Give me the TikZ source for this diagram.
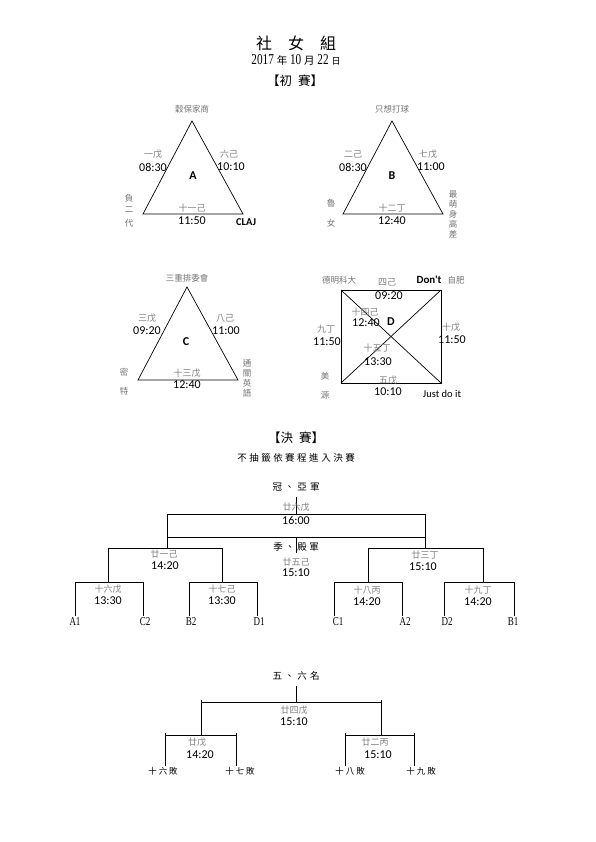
\documentclass[tikz,border=0pt]{standalone}
\usepackage{fontspec}
\setmainfont{Liberation Serif}
\newfontfamily\cjkf{Noto Sans CJK TC}
\newfontfamily\numf{Carlito}
\newfontfamily\nserif[FakeStretch=0.75]{Liberation Serif}
\newcommand{\gp}[1]{\hspace{#1}}
\begin{document}
\begin{tikzpicture}[x=1pt,y=-1pt,line width=0.7pt]
\tikzset{
  lbl/.style={inner sep=0pt,font=\cjkf\fontsize{9}{10}\selectfont,text=black!50},
  team/.style={inner sep=0pt,font=\cjkf\fontsize{8.5}{9}\selectfont,text=black!55},
  tim/.style={inner sep=0pt,font=\numf\fontsize{12}{13}\selectfont},
  grp/.style={inner sep=0pt,font=\numf\bfseries\fontsize{12}{13}\selectfont},
  blk/.style={inner sep=0pt,font=\cjkf\fontsize{9.5}{10}\selectfont},
  lose/.style={inner sep=0pt,font=\cjkf\fontsize{8.5}{9}\selectfont},
  seed/.style={inner sep=0pt,font=\nserif\fontsize{12}{13}\selectfont},
  sqline/.style={line width=1pt}
}
\useasboundingbox (0,0) rectangle (595,842);
\fill[white] (0,0) rectangle (595,842);

% ---------- header ----------
\node[inner sep=0pt,font=\cjkf\fontsize{16}{18}\selectfont] (title) at (296,43) {社\gp{16pt}女\gp{16pt}組};
\node[inner sep=0pt,font=\nserif\fontsize{15}{16}\selectfont] (date) at (296,60)
  {2017 {\cjkf\fontsize{10.5}{11}\selectfont 年} 10 {\cjkf\fontsize{10.5}{11}\selectfont 月} 22 {\cjkf\fontsize{9}{10}\selectfont 日}};
\node[inner sep=0pt,font=\cjkf\fontsize{12.5}{14}\selectfont] (prelim) at (295,81) {【初\gp{6pt}賽】};

% ---------- group A ----------
\coordinate (Aa) at (192,121); \coordinate (Ab) at (143,214); \coordinate (Ac) at (243,214);
\draw (Aa) -- (Ab) -- (Ac) -- cycle;
\node[team] (tA1) at (192,109) {穀保家商};
\node[lbl] (gA1) at (153,154) {一戊};
\node[tim] (hA1) at (153,167) {08:30};
\node[lbl] (gA2) at (229,154) {六己};
\node[tim] (hA2) at (231,167) {10:10};
\node[grp] (A) at (193,176) {A};
\node[lbl] (gA3) at (192,208) {十一己};
\node[tim] (hA3) at (192,221) {11:50};
\node[team] (tA2a) at (129,198) {負};
\node[team] (tA2b) at (129,210) {二};
\node[team] (tA2c) at (129,223) {代};
\node[inner sep=0pt,font=\numf\bfseries\fontsize{10.5}{12}\selectfont] (tA3) at (246,222) {CLAJ};

% ---------- group B ----------
\coordinate (Ba) at (392,121); \coordinate (Bb) at (343,214); \coordinate (Bc) at (443,214);
\draw (Ba) -- (Bb) -- (Bc) -- cycle;
\node[team] (tB1) at (392,109) {只想打球};
\node[lbl] (gB1) at (353,154) {二己};
\node[tim] (hB1) at (353,167) {08:30};
\node[lbl] (gB2) at (428,154) {七戊};
\node[tim] (hB2) at (431,167) {11:00};
\node[grp] (B) at (392,176) {B};
\node[lbl] (gB3) at (392,208) {十二丁};
\node[tim] (hB3) at (392,221) {12:40};
\node[team] (tB2a) at (331,203) {魯};
\node[team] (tB2b) at (331,223) {女};
\node[team] (tB3a) at (453,194) {最};
\node[team] (tB3b) at (453,204) {萌};
\node[team] (tB3c) at (453,214) {身};
\node[team] (tB3d) at (453,224) {高};
\node[team] (tB3e) at (453,234) {差};

% ---------- group C ----------
\coordinate (Ca) at (187,287); \coordinate (Cb) at (138,380); \coordinate (Cc) at (238,380);
\draw (Ca) -- (Cb) -- (Cc) -- cycle;
\node[team] (tC1) at (187,278) {三重排委會};
\node[lbl] (gC1) at (147,318) {三戊};
\node[tim] (hC1) at (147,331) {09:20};
\node[lbl] (gC2) at (225,318) {八己};
\node[tim] (hC2) at (226,331) {11:00};
\node[grp] (C) at (186,342) {C};
\node[lbl] (gC3) at (187,373) {十三戊};
\node[tim] (hC3) at (187,385) {12:40};
\node[team] (tC2a) at (124,372) {密};
\node[team] (tC2b) at (124,391) {特};
\node[team] (tC3a) at (247,363) {通};
\node[team] (tC3b) at (247,373) {關};
\node[team] (tC3c) at (247,383) {英};
\node[team] (tC3d) at (247,393) {語};

% ---------- group D ----------
\coordinate (Da) at (341,290); \coordinate (Db) at (441,290);
\coordinate (Dc) at (441,383); \coordinate (Dd) at (341,383);
\draw[sqline] (Da) -- (Db) -- (Dc) -- (Dd) -- cycle;
\draw (Da) -- (Dc);
\draw (Db) -- (Dd);
\node[team] (tD1) at (339,280) {德明科大};
\node[lbl] (gD1) at (387,282) {四己};
\node[tim] (hD1) at (389,296) {09:20};
\node[inner sep=0pt,font=\numf\bfseries\fontsize{11}{12}\selectfont] (tD2a) at (429,280) {Don't};
\node[team] (tD2b) at (456,280) {自肥};
\node[lbl] (gD2) at (365,312) {十四己};
\node[tim] (hD2) at (366,323) {12:40};
\node[grp] (D) at (391,322) {D};
\node[lbl] (gD3) at (326,329) {九丁};
\node[tim] (hD3) at (327,342) {11:50};
\node[lbl] (gD4) at (451,327) {十戊};
\node[tim] (hD4) at (452,340) {11:50};
\node[lbl] (gD5) at (377,348) {十五丁};
\node[tim] (hD5) at (378,362) {13:30};
\node[team] (tD3a) at (325,376) {美};
\node[team] (tD3b) at (325,395) {源};
\node[lbl] (gD6) at (388,380) {五戊};
\node[tim] (hD6) at (388,392) {10:10};
\node[inner sep=0pt,font=\numf\fontsize{10.5}{12}\selectfont,anchor=base] (tD4) at (442,397) {Just do it};

% ---------- finals header ----------
\node[inner sep=0pt,font=\cjkf\fontsize{12.5}{14}\selectfont] (final) at (296,438) {【決\gp{6pt}賽】};
\node[blk] (rule) at (296,458) {不\gp{2.5pt}抽\gp{2.5pt}籤\gp{2.5pt}依\gp{2.5pt}賽\gp{2.5pt}程\gp{2.5pt}進\gp{2.5pt}入\gp{2.5pt}決\gp{2.5pt}賽};

% ---------- final bracket ----------
\node[blk] (champ) at (296,487) {冠\gp{3pt}、\gp{3pt}亞\gp{3pt}軍};
\coordinate (c0) at (296,497); \coordinate (c1) at (296,514);
\coordinate (bL1) at (167,514); \coordinate (bR1) at (425,514);
\coordinate (bL2) at (167,537); \coordinate (bR2) at (425,537);
\coordinate (bL3) at (167,548); \coordinate (bR3) at (425,548);
\coordinate (m1) at (296,537); \coordinate (m2) at (296,553);
\draw (c0) -- (c1);
\draw (bL1) -- (bR1);
\draw (bL2) -- (bR2);
\draw (bL1) -- (bL3);
\draw (bR1) -- (bR3);
\draw (m1) -- (m2);
\node[lbl] (g26) at (296,507) {廿六戊};
\node[tim] (h26) at (296,520) {16:00};
\node[blk] (third) at (296,547) {季\gp{2.5pt}、\gp{2.5pt}殿\gp{2.5pt}軍};
\node[lbl] (g25) at (296,562) {廿五己};
\node[tim] (h25) at (296,573) {15:10};

% left semi
\coordinate (sLa) at (108,548); \coordinate (sLb) at (222,548);
\coordinate (sLa2) at (108,582); \coordinate (sLb2) at (222,582);
\draw (sLa2) -- (sLa) -- (sLb) -- (sLb2);
\node[lbl] (g21) at (164,554) {廿一己};
\node[tim] (h21) at (165,566) {14:20};
\coordinate (q1a) at (75,582); \coordinate (q1b) at (143,582);
\coordinate (q1a2) at (75,616); \coordinate (q1b2) at (143,616);
\draw (q1a2) -- (q1a) -- (q1b) -- (q1b2);
\node[lbl] (g16) at (108,589) {十六戊};
\node[tim] (h16) at (108,601) {13:30};
\coordinate (q2a) at (189,582); \coordinate (q2b) at (257,582);
\coordinate (q2a2) at (189,616); \coordinate (q2b2) at (257,616);
\draw (q2a2) -- (q2a) -- (q2b) -- (q2b2);
\node[lbl] (g17) at (222,589) {十七己};
\node[tim] (h17) at (222,601) {13:30};
\node[seed] (sA1) at (75,622) {A1};
\node[seed] (sC2) at (145,622) {C2};
\node[seed] (sB2) at (191,622) {B2};
\node[seed] (sD1) at (259,622) {D1};

% right semi
\coordinate (sRa) at (368,548); \coordinate (sRb) at (483,548);
\coordinate (sRa2) at (368,582); \coordinate (sRb2) at (483,582);
\draw (sRa2) -- (sRa) -- (sRb) -- (sRb2);
\node[lbl] (g23) at (425,555) {廿三丁};
\node[tim] (h23) at (423,567) {15:10};
\coordinate (q3a) at (334,582); \coordinate (q3b) at (402,582);
\coordinate (q3a2) at (334,616); \coordinate (q3b2) at (402,616);
\draw (q3a2) -- (q3a) -- (q3b) -- (q3b2);
\node[lbl] (g18) at (367,590) {十八丙};
\node[tim] (h18) at (367,602) {14:20};
\coordinate (q4a) at (444,582); \coordinate (q4b) at (514,582);
\coordinate (q4a2) at (444,616); \coordinate (q4b2) at (514,616);
\draw (q4a2) -- (q4a) -- (q4b) -- (q4b2);
\node[lbl] (g19) at (478,590) {十九丁};
\node[tim] (h19) at (478,602) {14:20};
\node[seed] (sC1) at (338,622) {C1};
\node[seed] (sA2) at (405,622) {A2};
\node[seed] (sD2) at (447,622) {D2};
\node[seed] (sB1) at (513,622) {B1};

% ---------- 5th/6th bracket ----------
\node[blk] (fifth) at (296,676) {五\gp{3pt}、\gp{3pt}六\gp{3pt}名};
\coordinate (p0) at (296,686); \coordinate (p1) at (296,702);
\coordinate (pL) at (201,702); \coordinate (pR) at (381,702);
\coordinate (pLt) at (201,700); \coordinate (pRt) at (381,700);
\coordinate (pL2) at (201,735); \coordinate (pR2) at (381,735);
\draw (p0) -- (p1);
\draw (pL) -- (pR);
\draw (pLt) -- (pL2);
\draw (pRt) -- (pR2);
\node[lbl] (g24) at (294,710) {廿四戊};
\node[tim] (h24) at (294,722) {15:10};
\coordinate (r1a) at (165,735); \coordinate (r1b) at (236,735);
\coordinate (r1at) at (165,733); \coordinate (r1bt) at (236,733);
\coordinate (r1a2) at (165,766); \coordinate (r1b2) at (236,766);
\draw (r1a) -- (r1b);
\draw (r1at) -- (r1a2);
\draw (r1bt) -- (r1b2);
\node[lbl] (g20) at (197,742) {廿戊};
\node[tim] (h20) at (200,755) {14:20};
\coordinate (r2a) at (345,735); \coordinate (r2b) at (414,735);
\coordinate (r2at) at (345,733); \coordinate (r2bt) at (414,733);
\coordinate (r2a2) at (345,766); \coordinate (r2b2) at (414,766);
\draw (r2a) -- (r2b);
\draw (r2at) -- (r2a2);
\draw (r2bt) -- (r2b2);
\node[lbl] (g22) at (375,742) {廿二丙};
\node[tim] (h22) at (378,755) {15:10};
\node[lose] (l16) at (163,771) {十\gp{2pt}六\gp{2pt}敗};
\node[lose] (l17) at (240,771) {十\gp{2pt}七\gp{2pt}敗};
\node[lose] (l18) at (350,771) {十\gp{2pt}八\gp{2pt}敗};
\node[lose] (l19) at (421,771) {十\gp{2pt}九\gp{2pt}敗};
\end{tikzpicture}
\end{document}
